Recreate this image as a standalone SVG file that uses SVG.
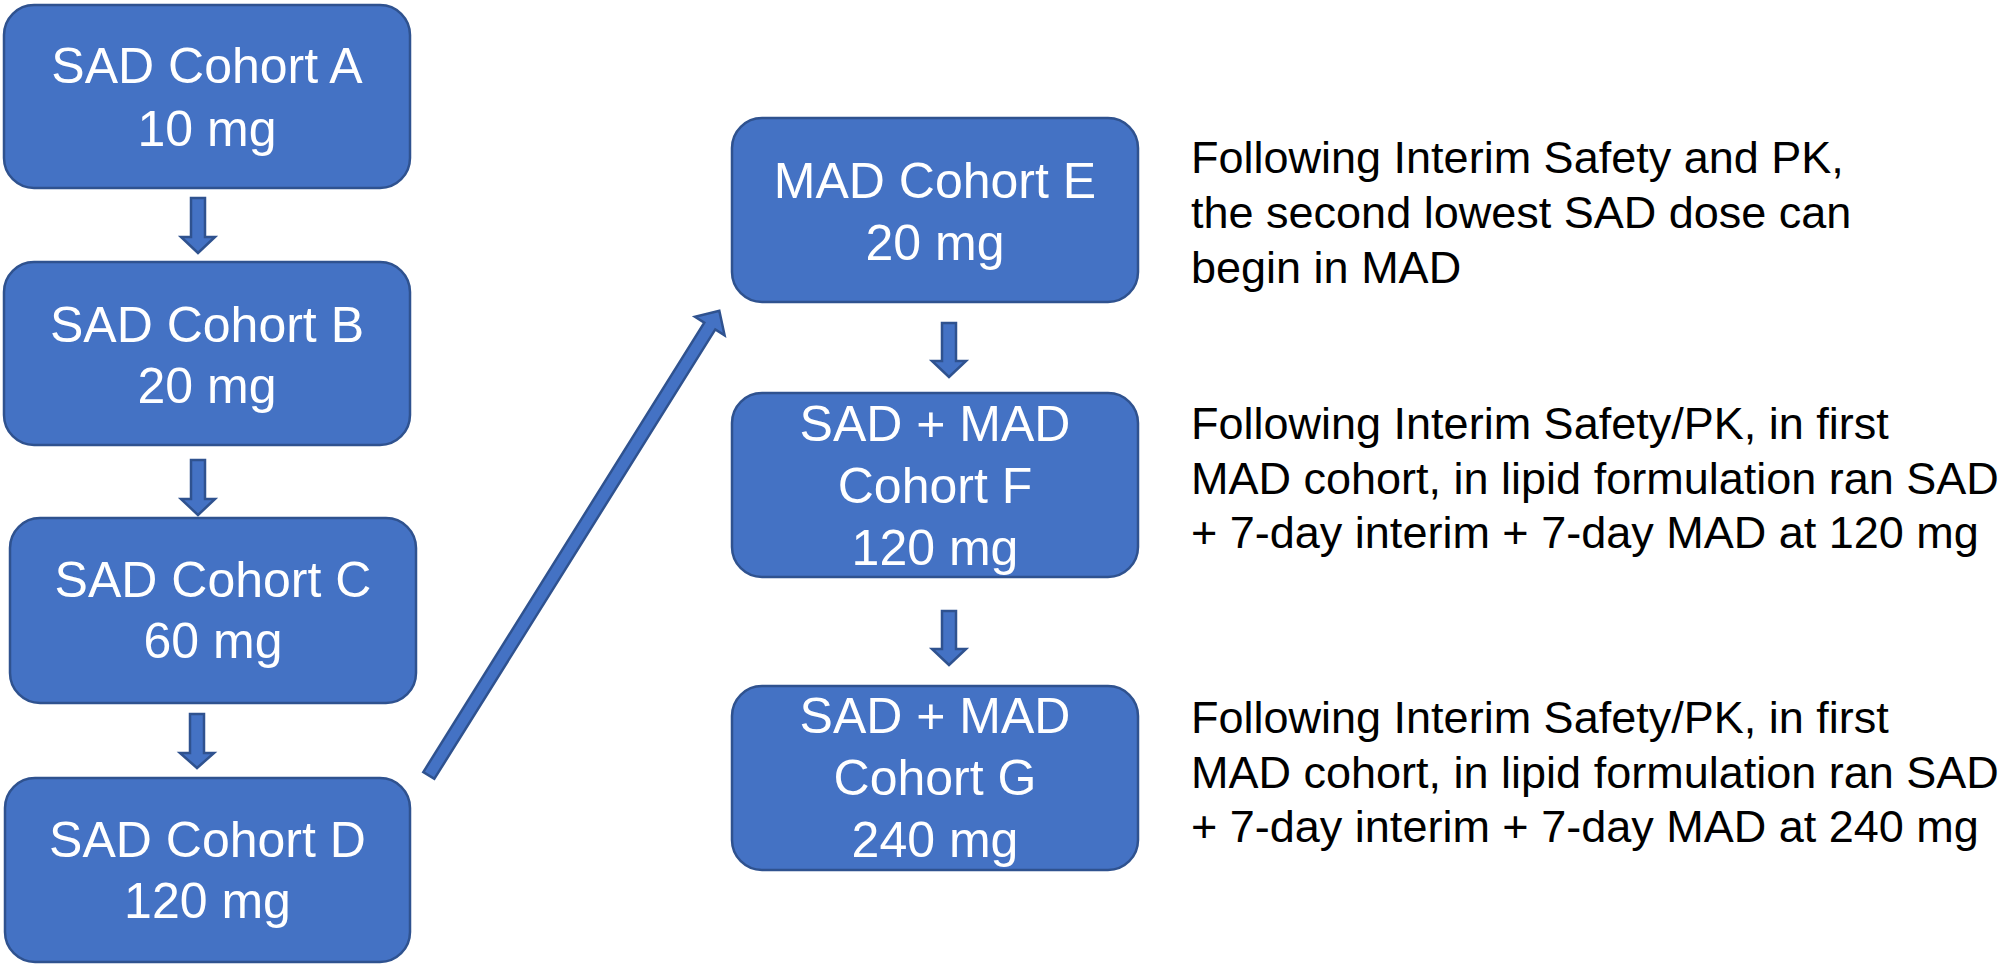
<svg xmlns="http://www.w3.org/2000/svg" width="2008" height="966" viewBox="0 0 2008 966">
<style>
.box{fill:#4472C4;stroke:#2F528F;stroke-width:2.5}
.arr{fill:#4472C4;stroke:#2F528F;stroke-width:2.5;stroke-linejoin:miter}
.bt{font-family:"Liberation Sans",Arial,sans-serif;font-size:50px;fill:#FFFFFF;text-anchor:middle}
.nt{font-family:"Liberation Sans",Arial,sans-serif;font-size:45px;fill:#000000}
</style>
<rect width="2008" height="966" fill="#FFFFFF"/>
<g id="connectors">
<polygon class="arr" points="191,198 205,198 205,237 215,237 198,253 181,237 191,237"/>
<polygon class="arr" points="191,460 205,460 205,499 215,499 198,515 181,499 191,499"/>
<polygon class="arr" points="190,714 204,714 204,753 214,753 197,768 180,753 190,753"/>
<polygon class="arr" points="942,323 956,323 956,361 966,361 949,377 932,361 942,361"/>
<polygon class="arr" points="942,611 956,611 956,649 966,649 949,665 932,649 942,649"/>
<polygon class="arr" points="423.3,772.1 704.3,322.6 695,316.7 719.3,310.7 724.6,335.3 715.3,329.4 434.3,778.9"/>
</g>
<g id="nodeA">
<rect class="box" x="4" y="5" width="406" height="183" rx="30"/>
<text class="bt" x="207" y="83">SAD Cohort A</text>
<text class="bt" x="207" y="146">10 mg</text>
</g>
<g id="nodeB">
<rect class="box" x="4" y="262" width="406" height="183" rx="30"/>
<text class="bt" x="207" y="342">SAD Cohort B</text>
<text class="bt" x="207" y="403">20 mg</text>
</g>
<g id="nodeC">
<rect class="box" x="10" y="518" width="406" height="185" rx="30"/>
<text class="bt" x="213" y="597">SAD Cohort C</text>
<text class="bt" x="213" y="658">60 mg</text>
</g>
<g id="nodeD">
<rect class="box" x="5" y="778" width="405" height="184" rx="30"/>
<text class="bt" x="207.5" y="857">SAD Cohort D</text>
<text class="bt" x="207.5" y="918">120 mg</text>
</g>
<g id="nodeE">
<rect class="box" x="732" y="118" width="406" height="184" rx="30"/>
<text class="bt" x="935" y="198">MAD Cohort E</text>
<text class="bt" x="935" y="260">20 mg</text>
</g>
<g id="nodeF">
<rect class="box" x="732" y="393" width="406" height="184" rx="30"/>
<text class="bt" x="935" y="441">SAD + MAD</text>
<text class="bt" x="935" y="503">Cohort F</text>
<text class="bt" x="935" y="565">120 mg</text>
</g>
<g id="nodeG">
<rect class="box" x="732" y="686" width="406" height="184" rx="30"/>
<text class="bt" x="935" y="733">SAD + MAD</text>
<text class="bt" x="935" y="795">Cohort G</text>
<text class="bt" x="935" y="857">240 mg</text>
</g>
<g id="noteE">
<text class="nt" x="1191" y="173">Following Interim Safety and PK,</text>
<text class="nt" x="1191" y="228">the second lowest SAD dose can</text>
<text class="nt" x="1191" y="283">begin in MAD</text>
</g>
<g id="noteF">
<text class="nt" x="1191" y="439">Following Interim Safety/PK, in first</text>
<text class="nt" x="1191" y="494">MAD cohort, in lipid formulation ran SAD</text>
<text class="nt" x="1191" y="548">+ 7-day interim + 7-day MAD at 120 mg</text>
</g>
<g id="noteG">
<text class="nt" x="1191" y="733">Following Interim Safety/PK, in first</text>
<text class="nt" x="1191" y="788">MAD cohort, in lipid formulation ran SAD</text>
<text class="nt" x="1191" y="842">+ 7-day interim + 7-day MAD at 240 mg</text>
</g>
</svg>
